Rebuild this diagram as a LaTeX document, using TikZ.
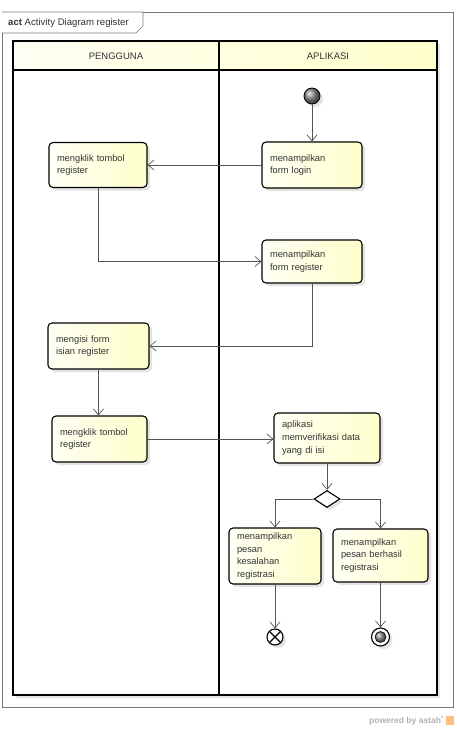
\documentclass[tikz,border=0pt]{standalone}
\usepackage{fontspec}
\setmainfont{Liberation Sans}
\usetikzlibrary{arrows.meta,shapes.geometric,shadows,calc}
\definecolor{fillA}{HTML}{FFFFF4}
\definecolor{fillB}{HTML}{FFFFCC}
\definecolor{txt}{HTML}{333333}
\definecolor{edgec}{HTML}{555555}
\definecolor{framec}{HTML}{777777}
\begin{document}
\begin{tikzpicture}[x=1pt,y=-1pt,
  shd/.style={drop shadow={shadow xshift=3pt,shadow yshift=-3pt,fill=black!30,opacity=0.35}},
  actbox/.style={shd,draw=black,line width=1.1pt,rounded corners=4pt,
     left color=fillA,right color=fillB,align=left,text=txt,
     inner xsep=8pt,inner ysep=2pt,
     font=\fontsize{9.3}{12.6}\selectfont},
  flow/.style={draw=edgec,line width=0.7pt,-{Straight Barb[length=6pt,width=10pt]}},
  hdr/.style={text=txt,font=\fontsize{9.5}{10}\selectfont}
]
\useasboundingbox (0,0) rectangle (456,730);
\fill[white] (0,0) rectangle (456,730);
% outer frame
\draw[framec,line width=0.6pt,fill=white] (2,12) rectangle (453,707);
\draw[framec,line width=0.6pt,fill=white] (2,12) -- (143,12) -- (143,26) -- (136,33) -- (2,33);
\node[anchor=west,text=txt,font=\fontsize{9.6}{10}\selectfont,inner sep=0pt] (title) at (8,23) {\textbf{act} Activity Diagram register};
% swimlanes
\draw[shd,fill=white,draw=none] (13,41) rectangle (437,695);
\shade[left color=fillA,right color=fillB] (13,41) rectangle (437,70);
\draw[black,line width=1.5pt] (13,41) rectangle (437,695);
\draw[black,line width=1.5pt] (13,70) -- (437,70);
\draw[black,line width=1.5pt] (219,41) -- (219,695);
\node[hdr] (lane1) at (116,56) {PENGGUNA};
\node[hdr] (lane2) at (328,56) {APLIKASI};
% nodes
\node[shd,circle,draw=black,line width=0.8pt,ball color=gray!90,minimum size=16pt,inner sep=0pt] (start) at (312,96) {};
\node[actbox,minimum width=100pt,minimum height=46pt,text width=84pt] (login) at (312,165) {menampilkan\\form login};
\node[actbox,minimum width=98pt,minimum height=45pt,text width=82pt] (klik1) at (98,165) {mengklik tombol\\register};
\node[actbox,minimum width=100pt,minimum height=43pt,text width=84pt] (formreg) at (312,261.5) {menampilkan\\form register};
\node[actbox,minimum width=101pt,minimum height=46pt,text width=85pt] (isi) at (98.5,346) {mengisi form\\isian register};
\node[actbox,minimum width=95pt,minimum height=46pt,text width=79pt] (klik2) at (99.5,439) {mengklik tombol\\register};
\node[actbox,minimum width=106pt,minimum height=50pt,text width=90pt] (verif) at (327,438) {aplikasi\\memverifikasi data\\yang di isi};
\node[shd,diamond,draw=black,line width=1.1pt,fill=white,minimum width=26pt,minimum height=17pt,inner sep=0pt] (dec) at (327,499) {};
\node[actbox,minimum width=92pt,minimum height=56pt,text width=76pt] (salah) at (275,556) {menampilkan\\pesan\\kesalahan\\registrasi};
\node[actbox,minimum width=95pt,minimum height=53pt,text width=79pt] (hasil) at (380.5,555.5) {menampilkan\\pesan berhasil\\registrasi};
\node[shd,circle,draw=black,line width=1.1pt,fill=white,minimum size=16pt,inner sep=0pt] (ff) at (275,637) {};
\draw[black,line width=1.1pt] ($(ff.center)+(-5.5,-5.5)$) -- ($(ff.center)+(5.5,5.5)$);
\draw[black,line width=1.1pt] ($(ff.center)+(-5.5,5.5)$) -- ($(ff.center)+(5.5,-5.5)$);
\node[shd,circle,draw=black,line width=1.1pt,fill=white,minimum size=18pt,inner sep=0pt] (fin) at (380.5,637) {};
\shade[ball color=gray!90] (fin.center) circle (5.5pt);
\draw[black,line width=0.6pt] (fin.center) circle (5.5pt);
% connectors
\draw[flow] (start) -- (login);
\draw[flow] (login.west) -- (klik1.east |- login.west);
\draw[flow] (klik1.south) |- (formreg.west);
\draw[flow] (formreg.south) |- (isi.east);
\draw[flow] (isi.south) -- (isi.south |- klik2.north);
\draw[flow] (klik2.east) -- (verif.west |- klik2.east);
\draw[flow] (verif.south) -- (dec.north);
\draw[flow] (dec.west) -| (salah.north);
\draw[flow] (dec.east) -| (hasil.north);
\draw[flow] (salah.south) -- (ff.north);
\draw[flow] (hasil.south) -- (fin.north);
% footer
\node[anchor=east,text=black!30,font=\fontsize{8.5}{9}\selectfont\bfseries,inner sep=0pt] (powered) at (444,721) {powered by astah\textsuperscript{*}};
\fill[orange!50] (446,716) rectangle (454,725);
\end{tikzpicture}
\end{document}
